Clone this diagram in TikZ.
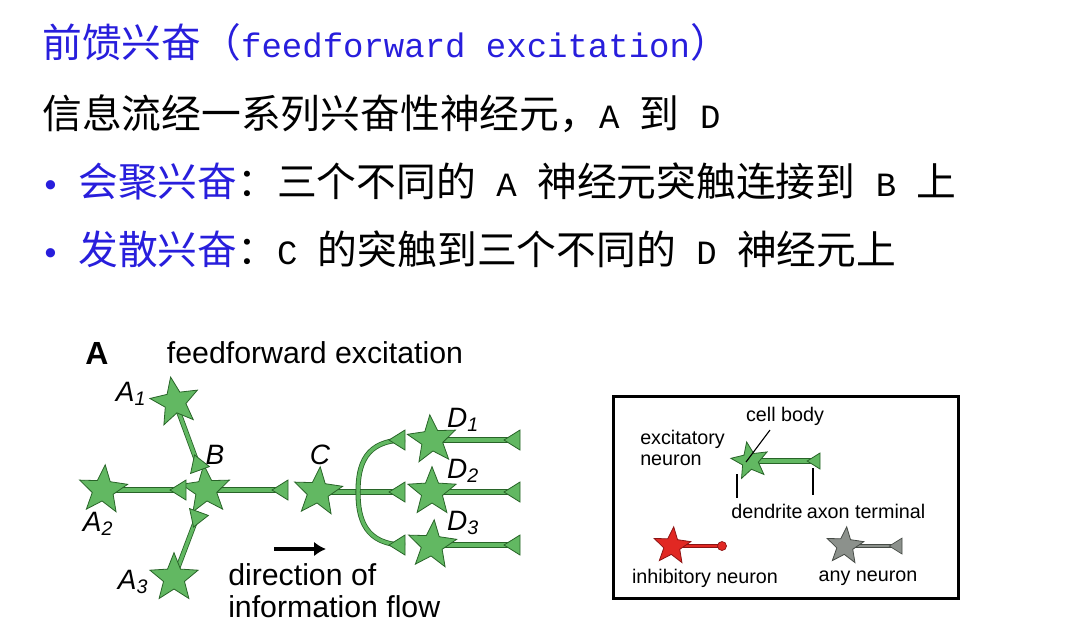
\documentclass[tikz,border=0pt]{standalone}
\usepackage{fontspec}
\setmainfont{Liberation Mono}
\setsansfont{Liberation Sans}
\newfontfamily\cjk[Scale=1.17]{Noto Sans CJK SC}
\usetikzlibrary{shapes.geometric,backgrounds,arrows.meta}
\definecolor{tblue}{RGB}{40,30,220}
\definecolor{gfill}{RGB}{98,184,98}
\definecolor{gdark}{RGB}{40,100,40}
\definecolor{rfill}{RGB}{225,40,35}
\definecolor{rdark}{RGB}{140,20,20}
\definecolor{yfill}{RGB}{140,145,140}
\definecolor{ydark}{RGB}{70,75,70}
\tikzset{
  big/.style={font=\fontsize{25.5pt}{30pt}\selectfont, anchor=base west, inner sep=0},
  neur/.style={star, star points=5, star point ratio=2.3, minimum size=38pt, inner sep=0, fill=gfill, draw=gdark, line width=0.6pt},
  axon/.style={draw=gdark, line width=0.6pt, double=gfill, double distance=2.6pt},
  lab/.style={font=\sffamily\itshape\fontsize{21pt}{23pt}\selectfont},
  leg/.style={font=\sffamily\fontsize{14.8pt}{16pt}\selectfont},
  term/.pic={\filldraw[draw=gdark, fill=gfill, line width=0.6pt] (0,-7.5pt) -- (0,7.5pt) -- (-12pt,0) -- cycle;},
}
\begin{document}
\begin{tikzpicture}[x=0.75pt,y=-0.75pt]
\useasboundingbox (0,0) rectangle (1087,637);
% text
\node[big, text=tblue] (t1) at (42,57) {{\cjk 前馈兴奋（}feedforward excitation{\cjk ）}};
\node[big] (t2) at (42,128) {{\cjk 信息流经一系列兴奋性神经元，}A {\cjk 到} D};
\node[big, text=tblue] (b1) at (40,196) {\textbullet};
\node[big] (t3) at (78,196) {{\cjk\color{tblue}会聚兴奋}{\cjk ：三个不同的} A {\cjk 神经元突触连接到} B {\cjk 上}};
\node[big, text=tblue] (b2) at (40,264) {\textbullet};
\node[big] (t4) at (78,264) {{\cjk\color{tblue}发散兴奋}{\cjk ：}C {\cjk 的突触到三个不同的} D {\cjk 神经元上}};
% panel A
\node[font=\sffamily\bfseries\fontsize{24pt}{26pt}\selectfont] (hA) at (97,353) {A};
\node[font=\sffamily\fontsize{22.7pt}{24pt}\selectfont] (hT) at (315,353) {feedforward excitation};
\node[neur, rotate=10] (A1) at (175,402) {};
\node[neur, rotate=-5] (A2) at (103,490) {};
\node[neur, rotate=5] (B) at (206,490) {};
\node[neur, rotate=0] (A3) at (174,578) {};
\node[neur, rotate=-5] (C) at (318,492) {};
\node[neur, rotate=5] (D1) at (432,440) {};
\node[neur, rotate=0] (D2) at (432,492) {};
\node[neur, rotate=-5] (D3) at (432,545) {};
\coordinate (tA1) at (200,470);
\coordinate (tA2) at (186,490);
\coordinate (tA3) at (199,512);
\coordinate (tB) at (288,490);
\coordinate (tC1) at (405,440);
\coordinate (tC2) at (405,492);
\coordinate (tC3) at (405,545);
\coordinate (br) at (358,492);
\coordinate (tD1) at (520,440);
\coordinate (tD2) at (520,492);
\coordinate (tD3) at (520,545);
\begin{pgfonlayer}{background}
\draw[axon] (A1.center) -- (tA1);
\draw[axon] (A2.center) -- (tA2);
\draw[axon] (A3.center) -- (tA3);
\draw[axon] (B.center) -- (tB);
\draw[axon] (C.center) -- (tC2);
\draw[axon] (tC1) .. controls (365,440) and (358,465) .. (br) .. controls (358,519) and (365,545) .. (tC3);
\draw[axon] (D1.center) -- (tD1);
\draw[axon] (D2.center) -- (tD2);
\draw[axon] (D3.center) -- (tD3);
\end{pgfonlayer}
\pic[rotate=-70] at (tA1) {term};
\pic at (tA2) {term};
\pic[rotate=70] at (tA3) {term};
\foreach \t in {tB,tC1,tC2,tC3,tD1,tD2,tD3} \pic at (\t) {term};
\node[lab] (lA1) at (131,394) {A\textsubscript{1}};
\node[lab] (lA2) at (98,524) {A\textsubscript{2}};
\node[lab] (lA3) at (133,582) {A\textsubscript{3}};
\node[lab] (lB) at (215,455) {B};
\node[lab] (lC) at (320,455) {C};
\node[lab] (lD1) at (463,420) {D\textsubscript{1}};
\node[lab] (lD2) at (463,471) {D\textsubscript{2}};
\node[lab] (lD3) at (463,523) {D\textsubscript{3}};
\coordinate (ar1) at (274,549);
\coordinate (ar2) at (326,549);
\draw[line width=3pt, -{Latex[length=9pt,width=11pt]}] (ar1) -- (ar2);
\node[font=\sffamily\fontsize{22.7pt}{24pt}\selectfont, align=left, anchor=north west, inner sep=0] (dir) at (228,563) {direction of\\information flow};
% legend
\node[draw, line width=2.2pt, minimum width=345*0.75pt, minimum height=202*0.75pt, anchor=north west, inner sep=0] (box) at (612,395) {};
\node[neur, minimum size=29pt, rotate=10] (L1) at (750,461) {};
\coordinate (tL1) at (820,461);
\begin{pgfonlayer}{background}\draw[axon] (L1.center) -- (tL1);\end{pgfonlayer}
\pic[scale=0.8] at (tL1) {term};
\coordinate (cb1) at (770,430); \coordinate (cb2) at (746,462);
\draw[line width=0.8pt] (cb1) -- (cb2);
\coordinate (d1) at (737,474); \coordinate (d2) at (737,498);
\draw[line width=1pt] (d1) -- (d2);
\coordinate (at1) at (813,468); \coordinate (at2) at (813,495);
\draw[line width=1pt] (at1) -- (at2);
\node[leg] (lcb) at (785,416) {cell body};
\node[leg, align=left, anchor=north west, inner sep=0] (lex) at (640,430) {excitatory\\neuron};
\node[leg] (lde) at (767,511) {dendrite};
\node[leg] (lat) at (866,511) {axon terminal};
\node[neur, minimum size=29pt, fill=rfill, draw=rdark, rotate=-5] (R) at (672,546) {};
\coordinate (tR) at (722,546);
\begin{pgfonlayer}{background}\draw[draw=rdark, line width=0.5pt, double=rfill, double distance=2pt] (R.center) -- (tR);\end{pgfonlayer}
\filldraw[fill=rfill, draw=rdark, line width=0.5pt] (tR) circle (4.5);
\node[leg] (lin) at (705,578) {inhibitory neuron};
\node[neur, minimum size=29pt, fill=yfill, draw=ydark, rotate=-5] (Y) at (845,546) {};
\coordinate (tY) at (902,546);
\begin{pgfonlayer}{background}\draw[draw=ydark, line width=0.5pt, double=yfill, double distance=2pt] (Y.center) -- (tY);\end{pgfonlayer}
\filldraw[draw=ydark, fill=yfill, line width=0.5pt, scale=0.8] (tY) ++(0,-7.5pt) -- ++(0,15pt) -- ++(-12pt,-7.5pt) -- cycle;
\node[leg] (lany) at (868,578) {any neuron};
\end{tikzpicture}
\end{document}
